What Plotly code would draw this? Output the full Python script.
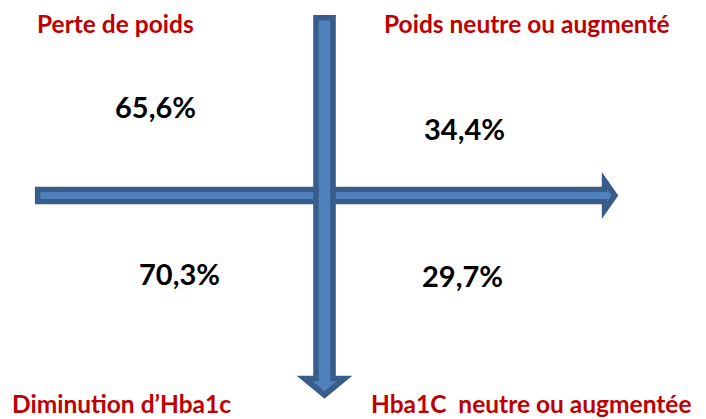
import plotly.graph_objects as go

# Quadrant labels (top-left, top-right, bottom-left, bottom-right)
weight_labels = ["Perte de poids", "Poids neutre ou augmenté"]
hba1c_labels = ["Diminution d’Hba1c", "Hba1C\u00a0 neutre ou augmentée"]
weight_pct = ["65,6%", "34,4%"]
hba1c_pct = ["70,3%", "29,7%"]

WIDTH, HEIGHT = 706, 419
RED = "#C00000"
FILL = "#4F81BD"
EDGE = "#385D8A"
LABEL_FONT = dict(family="Lato, sans-serif", size=24.5, color=RED)
PCT_FONT = dict(family="Lato, sans-serif", size=29, color="black")


def arrow_path(x0, y0, x1, y1, shaft, head_w, head_len):
    """Block arrow from (x0, y0) to tip (x1, y1), horizontal or vertical."""
    s, h = shaft / 2, head_w / 2
    if y0 == y1:  # horizontal, pointing right
        bx = x1 - head_len
        pts = [(x0, y0 - s), (bx, y0 - s), (bx, y0 - h), (x1, y0),
               (bx, y0 + h), (bx, y0 + s), (x0, y0 + s)]
    else:  # vertical, pointing down
        by = y1 - head_len
        pts = [(x0 - s, y0), (x0 + s, y0), (x0 + s, by), (x0 + h, by),
               (x1, y1), (x0 - h, by), (x0 - s, by)]
    return "M" + " L".join(f"{x},{y}" for x, y in pts) + " Z"


fig = go.Figure()
fig.add_trace(go.Scatter(x=[], y=[], hoverinfo="skip", showlegend=False))

# Axes: horizontal first, vertical drawn over it
fig.add_shape(type="path", path=arrow_path(37.6, 195.5, 615, 195.5, 12.2, 29.8, 10.5),
              xref="x", yref="y", fillcolor=FILL, line=dict(color=EDGE, width=5.4))
fig.add_shape(type="path", path=arrow_path(324.5, 17.8, 324.5, 395, 17, 40, 16.5),
              xref="x", yref="y", fillcolor=FILL, line=dict(color=EDGE, width=5.6))

top_pos = [(115, 23), (527, 23)]
bottom_pos = [(121, HEIGHT), (531, HEIGHT)]
pct_pos = [(155, 106), (464, 128), (179, 273), (462, 275)]

for text, (x, y) in zip(weight_labels, top_pos):
    fig.add_annotation(x=x, y=y, text=f"<b>{text}</b>", showarrow=False,
                       xanchor="center", yanchor="middle", font=LABEL_FONT)
for text, (x, y) in zip(hba1c_labels, bottom_pos):
    fig.add_annotation(x=x, y=y, text=f"<b>{text}</b>", showarrow=False,
                       xanchor="center", yanchor="bottom", font=LABEL_FONT,
                       borderpad=0)
for text, (x, y) in zip(weight_pct + hba1c_pct, pct_pos):
    fig.add_annotation(x=x, y=y, text=f"<b>{text}</b>", showarrow=False,
                       xanchor="center", yanchor="middle", font=PCT_FONT)

fig.update_layout(
    width=WIDTH,
    height=HEIGHT,
    margin=dict(l=0, r=0, t=0, b=0),
    paper_bgcolor="white",
    plot_bgcolor="white",
    xaxis=dict(range=[0, WIDTH], visible=False, fixedrange=True),
    yaxis=dict(range=[HEIGHT, 0], visible=False, fixedrange=True),
    showlegend=False,
)

fig.write_html("out.html", config={"displayModeBar": False},
               post_script="document.body.style.margin='0';")
